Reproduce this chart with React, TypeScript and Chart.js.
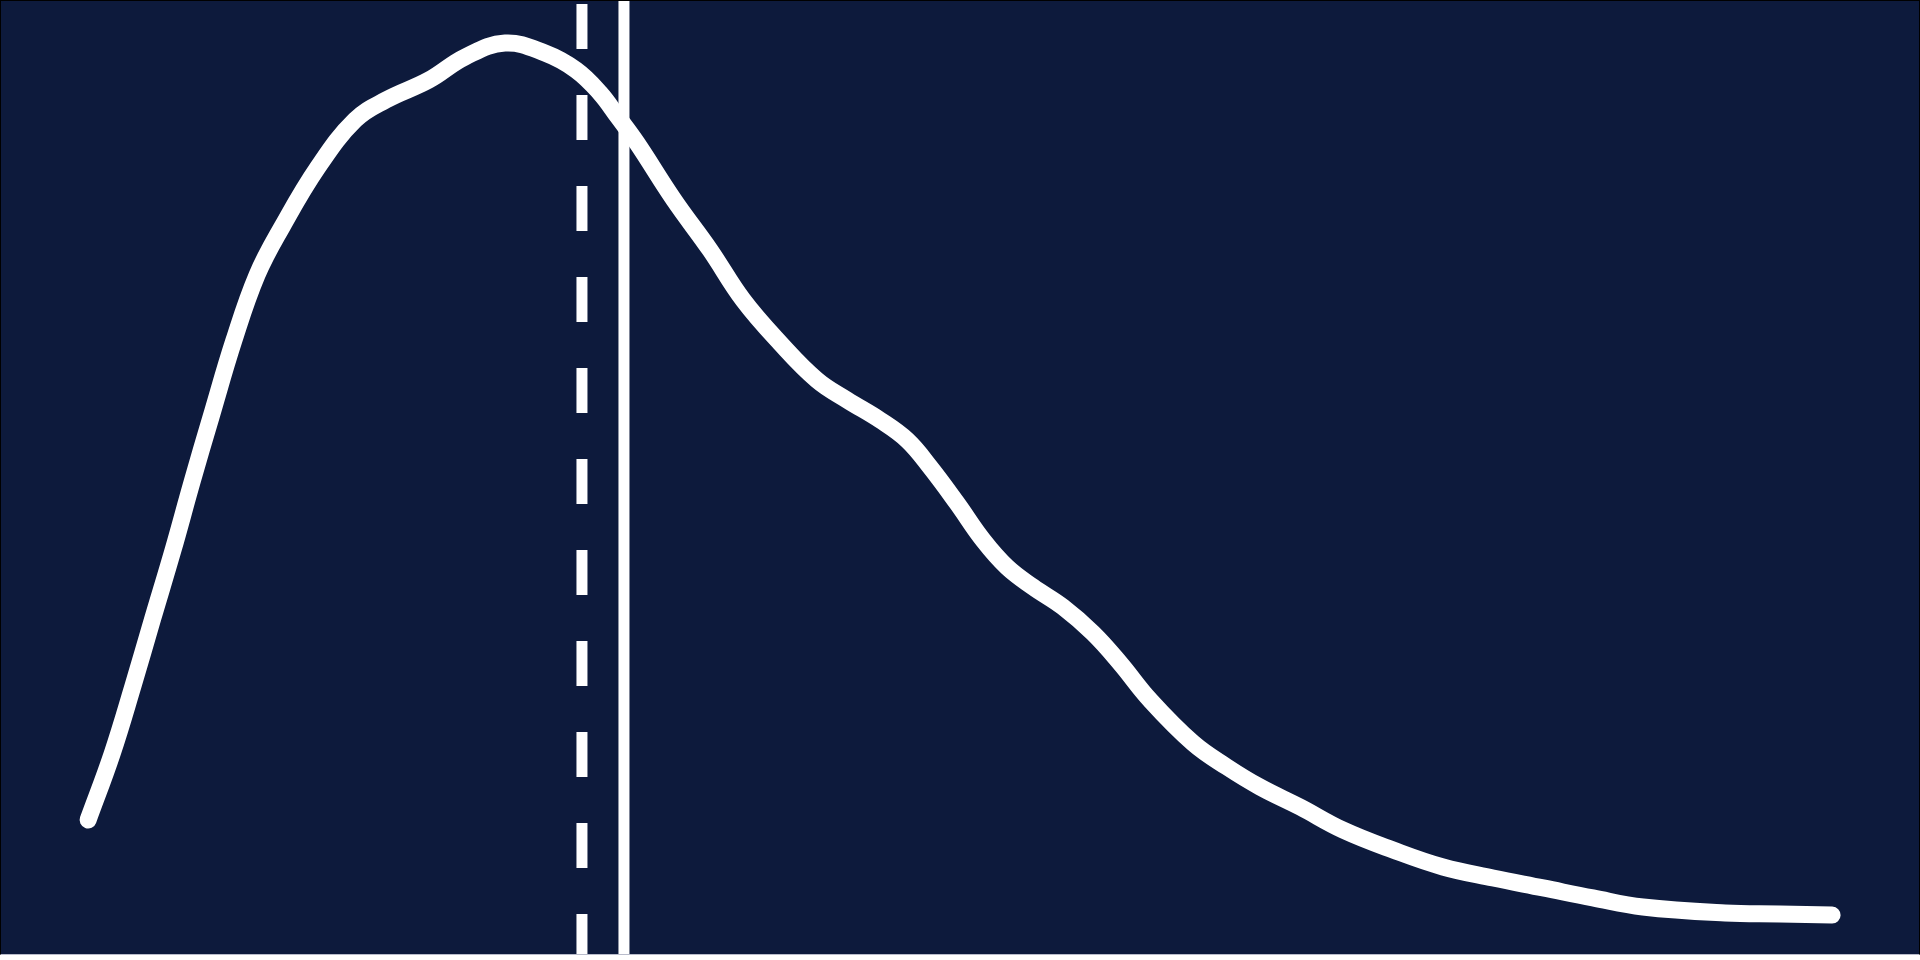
import { useEffect, useRef } from "react"
import { Chart, registerables } from "chart.js"

Chart.register(...registerables)

// Curva de densidade (x em % da largura, y em % da altura)
const curveX = [
  4.54, 5.79, 6.88, 7.92, 8.97, 9.96, 10.95, 12.15, 13.35, 14.65, 16.53, 18.46, 20.07, 22.31, 24.19, 26.28,
  28.36, 29.98, 31.23, 32.17, 33.16, 35.09, 36.97, 38.69, 40.62, 42.54, 44.11, 45.83, 47.24, 48.44, 49.84,
  51.2, 52.45, 53.81, 55.37, 56.93, 58.34, 59.91, 62.15, 63.92, 65.64, 67.73, 69.97, 72.58, 75.18, 77.79,
  80.4, 83.0, 85.61, 89.89, 92.75, 95.47,
]
const curveY = [
  14.06, 20.99, 28.12, 35.26, 42.39, 49.53, 56.35, 64.43, 71.25, 76.29, 82.58, 87.51, 89.61, 91.71, 94.12,
  95.59, 94.54, 92.76, 90.35, 87.83, 85.1, 79.12, 73.87, 68.63, 64.11, 60.23, 58.13, 56.03, 53.93, 51.1,
  47.32, 43.44, 40.61, 38.51, 36.41, 33.68, 30.54, 26.65, 22.14, 19.62, 17.52, 15.42, 13.01, 10.91, 9.13,
  7.97, 6.93, 5.88, 4.93, 4.3, 4.2, 4.09,
]

// Linhas verticais de referência
const dashedX = 30.29
const solidX = 32.48
const yRange = [0, 100]

const NAVY = "#0d1a3c"

export default function App() {
  const chartRef = useRef<HTMLCanvasElement>(null)
  const chartInstance = useRef<Chart | null>(null)

  useEffect(() => {
    document.body.style.margin = "0"
    if (!chartRef.current) return

    if (chartInstance.current) {
      chartInstance.current.destroy()
    }

    const ctx = chartRef.current.getContext("2d")
    if (ctx) {
      chartInstance.current = new Chart(ctx, {
        type: "line",
        data: {
          datasets: [
            {
              label: "dashed",
              data: [
                { x: dashedX, y: yRange[1] },
                { x: dashedX, y: yRange[0] },
              ],
              borderColor: "#ffffff",
              borderWidth: 11,
              borderDash: [45, 46],
              borderDashOffset: 88,
              borderCapStyle: "butt",
              pointRadius: 0,
            },
            {
              label: "solid",
              data: [
                { x: solidX, y: yRange[1] },
                { x: solidX, y: yRange[0] },
              ],
              borderColor: "#ffffff",
              borderWidth: 11,
              borderCapStyle: "butt",
              pointRadius: 0,
            },
            {
              label: "density",
              data: curveX.map((x, i) => ({ x, y: curveY[i] })),
              borderColor: "#ffffff",
              borderWidth: 17,
              borderCapStyle: "round",
              borderJoinStyle: "round",
              tension: 0.4,
              pointRadius: 0,
            },
          ],
        },
        options: {
          animation: false,
          responsive: true,
          maintainAspectRatio: false,
          devicePixelRatio: 1,
          layout: { padding: 0 },
          plugins: {
            legend: { display: false },
            tooltip: { enabled: false },
          },
          scales: {
            x: { type: "linear", min: 0, max: 100, display: false },
            y: { type: "linear", min: yRange[0], max: yRange[1], display: false },
          },
        },
      })
    }

    return () => {
      if (chartInstance.current) {
        chartInstance.current.destroy()
        chartInstance.current = null
      }
    }
  }, [])

  return (
    <div
      style={{
        width: 1920,
        height: 955,
        boxSizing: "border-box",
        border: "1px solid #000",
        borderBottomColor: "#b9bccb",
        background: NAVY,
      }}
    >
      <div style={{ position: "relative", width: 1918, height: 953 }}>
        <canvas ref={chartRef} />
      </div>
    </div>
  )
}
